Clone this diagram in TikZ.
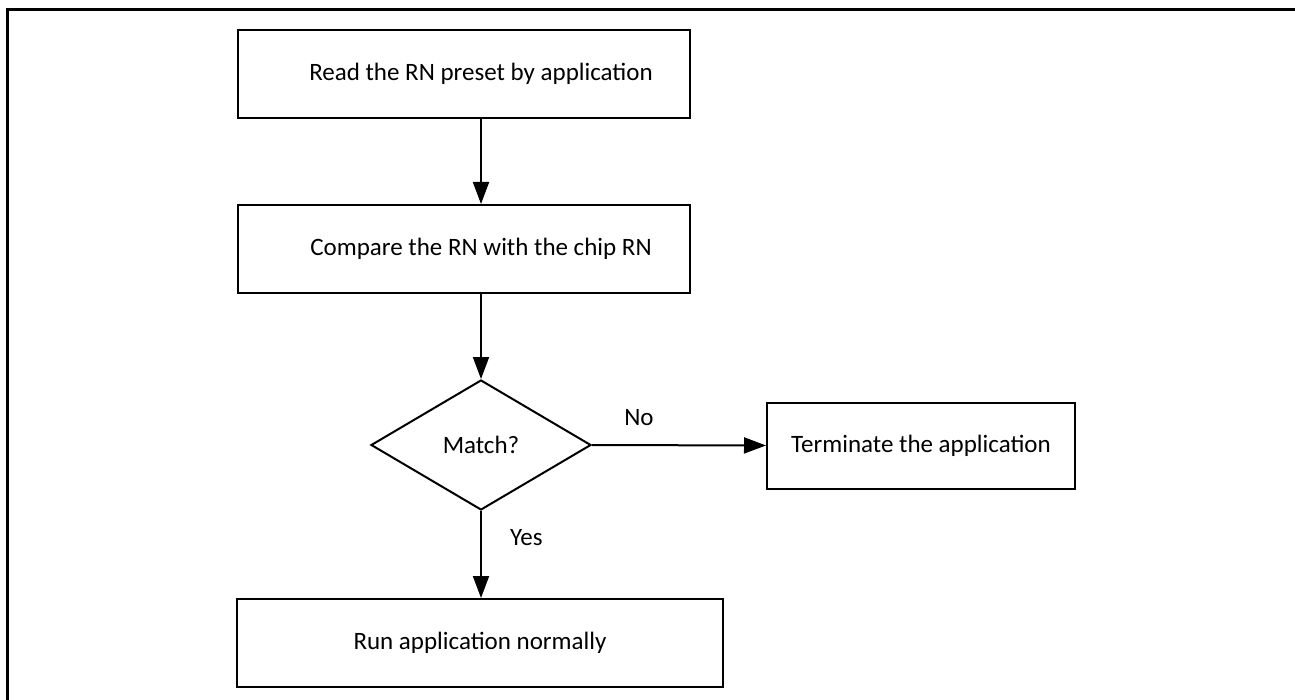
\documentclass[tikz,border=0pt]{standalone}
\usepackage{fontspec}
\setmainfont{Carlito}
\usetikzlibrary{arrows.meta,shapes.geometric}

\tikzset{
  stepbox/.style={draw, line width=1pt, rectangle, align=center, inner sep=0pt},
  decide/.style={draw, line width=1pt, diamond, aspect=1.7, inner sep=0pt,
    minimum width=110pt, minimum height=65pt},
  flow/.style={line width=1pt, -{Triangle[length=11pt,width=8pt]}},
  edgelabel/.style={inner sep=0pt}
}

\begin{document}
\begin{tikzpicture}[x=0.5pt, y=-0.5pt, font=\fontsize{12.5}{15}\selectfont]
\useasboundingbox (0,0) rectangle (1295,700);
% outer frame
\draw[line width=1.5pt] (7,700) -- (7,10) -- (1295,10);

% boxes
\node[stepbox, minimum width=226pt, minimum height=44pt] (read) at (464,74) {\hspace*{17pt}Read the RN preset by application};
\node[stepbox, minimum width=226pt, minimum height=44pt] (compare) at (464,249) {\hspace*{17pt}Compare the RN with the chip RN};
\node[decide] (match) at (481,445) {Match?};
\node[stepbox, minimum width=154pt, minimum height=43pt] (stop) at (921,445.5) {Terminate the application};
\node[stepbox, minimum width=243pt, minimum height=44pt] (run) at (480,643) {Run application normally};

% connectors
\draw[flow] (read.south -| match.north) -- (compare.north -| match.north);
\draw[flow] (compare.south -| match.north) -- (match.north);
\draw[flow] (match.east) -- node[edgelabel, above=9pt, pos=0.27] {No} (stop.west);
\draw[flow] (match.south) -- node[edgelabel, right=14pt, pos=0.31] {Yes} (run.north -| match.south);
\end{tikzpicture}
\end{document}
